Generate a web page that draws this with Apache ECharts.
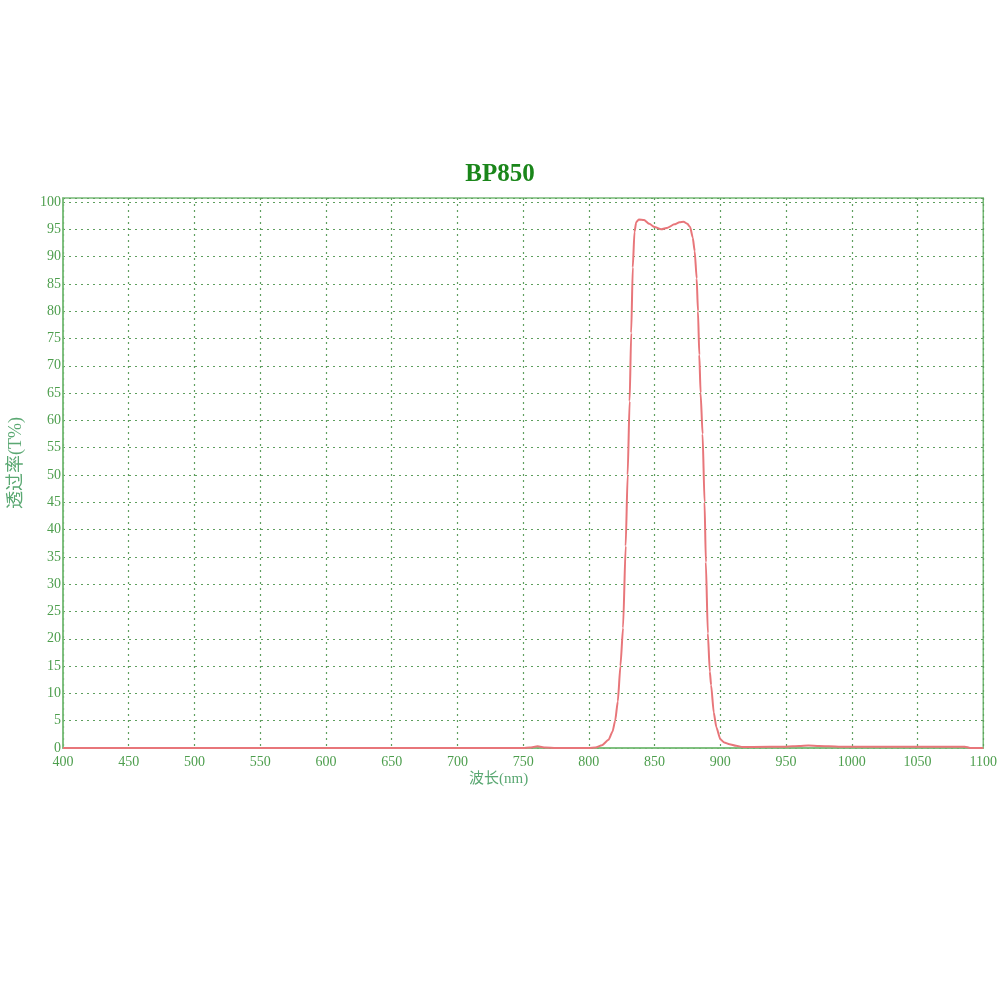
<!DOCTYPE html>
<html>
<head>
<meta charset="utf-8">
<script src="https://cdn.jsdelivr.net/npm/echarts@6/dist/echarts.min.js"></script>
<style>html,body{margin:0;padding:0;background:#fff;}#c{width:1000px;height:1000px;}</style>
</head>
<body>
<div id="c"></div>
<script>
var chartTitle = 'BP850';
var xName = '波长(nm)';
var yName = '透过率(T%)';
var wavelength = [400, 500, 600, 700, 750, 755, 761, 767, 775, 800, 805, 810, 815, 818, 820, 822, 824, 826, 828, 829.5, 831, 832.2, 833.4, 834.7, 836, 838, 842, 846, 850, 855, 860, 865, 869, 872, 875, 877, 879, 880.5, 882, 883, 884, 885, 886.5, 888, 889, 890.5, 892, 893, 895, 897, 900, 903, 907, 912, 917, 925, 950, 960, 967, 975, 990, 1050, 1086, 1090, 1100];
var transmission = [0, 0, 0, 0, 0, 0.1, 0.3, 0.1, 0, 0, 0.1, 0.5, 1.5, 3, 5, 8.5, 15, 22, 37, 50, 63.5, 76, 88, 94.5, 96.3, 96.8, 96.7, 96, 95.4, 95, 95.3, 95.9, 96.3, 96.4, 96, 95.4, 93.5, 91, 86, 80, 72, 65, 57.5, 45, 34, 21, 14, 11.5, 6.5, 3.8, 1.6, 1.0, 0.7, 0.4, 0.2, 0.2, 0.25, 0.35, 0.45, 0.35, 0.25, 0.25, 0.25, 0, 0];

var data = wavelength.map(function (w, i) { return [w, transmission[i]]; });
var chart = echarts.init(document.getElementById('c'));
var labelFont = '"Liberation Serif", "Times New Roman", serif';
var nameFont = '"Liberation Serif", "Noto Sans CJK SC", serif';
chart.setOption({
  animation: false,
  backgroundColor: '#ffffff',
  title: {
    text: chartTitle,
    left: 'center',
    top: 157,
    textStyle: { fontFamily: labelFont, fontWeight: 'bold', fontSize: 25, color: '#1a861a' }
  },
  grid: {
    left: 63, right: 16, top: 198, bottom: 252,
    show: true, borderColor: '#78bc78', borderWidth: 1.5, backgroundColor: 'transparent'
  },
  xAxis: {
    type: 'value', min: 400, max: 1100, interval: 50,
    axisLine: { lineStyle: { color: '#78bc78', width: 1.5 } },
    axisTick: { show: false },
    axisLabel: { color: '#4d9e4d', fontFamily: labelFont, fontSize: 14, margin: 7, formatter: function (v) { return String(v); } },
    splitLine: { show: true, lineStyle: { color: '#5f9f5f', type: [2, 4], width: 1.2 } }
  },
  yAxis: {
    type: 'value', min: 0, max: 100.73, interval: 5,
    axisLine: { show: true, lineStyle: { color: '#78bc78', width: 1.5 } },
    axisTick: { show: false },
    axisLabel: { color: '#4d9e4d', fontFamily: labelFont, fontSize: 14, margin: 2, showMaxLabel: false, formatter: function (v) { return String(v); } },
    splitLine: { show: true, lineStyle: { color: '#5f9f5f', type: [2, 4], width: 1.2 } }
  },
  graphic: [
    { type: 'text', left: 469, top: 772, style: { text: xName, font: '15px ' + nameFont, fill: '#5aa872' } },
    { type: 'text', x: 7, y: 463, rotation: Math.PI / 2, style: { text: yName, font: '18px ' + nameFont, fill: '#5aa872', align: 'center', verticalAlign: 'top' } }
  ],
  series: [{
    type: 'line',
    data: data,
    showSymbol: false,
    smooth: 0.2,
    smoothMonotone: 'x',
    lineStyle: { color: '#e8767a', width: 2 },
    z: 5
  }]
});
</script>
</body>
</html>
